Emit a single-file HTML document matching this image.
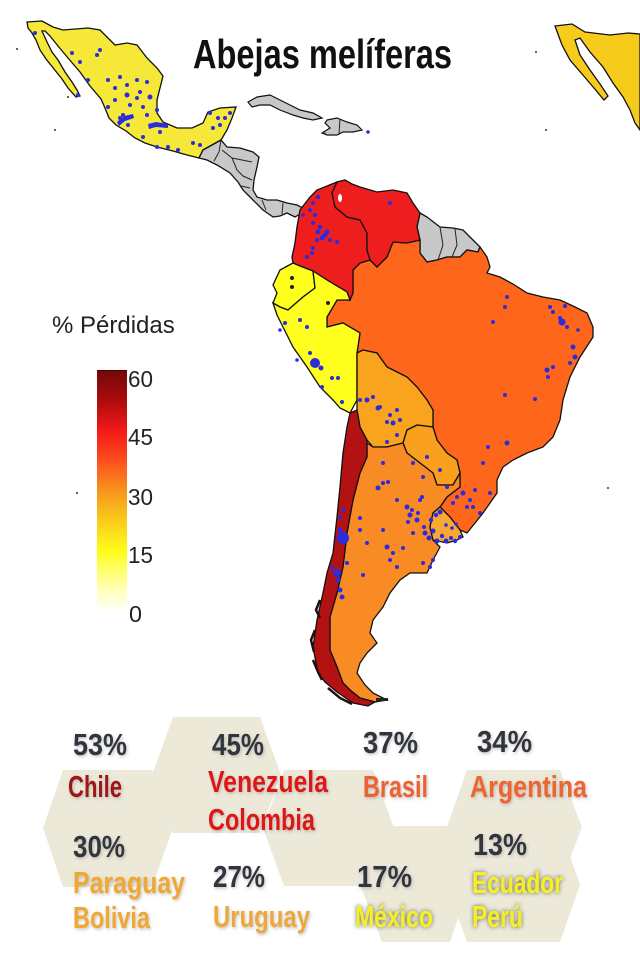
<!DOCTYPE html>
<html><head><meta charset="utf-8">
<style>
html,body{margin:0;padding:0;background:#fff;}
svg{display:block;}
</style></head>
<body>
<svg width="640" height="963" viewBox="0 0 640 963" xmlns="http://www.w3.org/2000/svg">
<defs>
<linearGradient id="cb" x1="0" y1="0" x2="0" y2="1">
<stop offset="0" stop-color="#720808"/>
<stop offset="0.12" stop-color="#a80c0c"/>
<stop offset="0.25" stop-color="#f41818"/>
<stop offset="0.37" stop-color="#fb4d1c"/>
<stop offset="0.5" stop-color="#f7951d"/>
<stop offset="0.62" stop-color="#f9cb1c"/>
<stop offset="0.75" stop-color="#fefe18"/>
<stop offset="0.88" stop-color="#ffffa0"/>
<stop offset="1" stop-color="#ffffff"/>
</linearGradient>
<filter id="sh" x="-20%" y="-30%" width="140%" height="160%">
<feDropShadow dx="1" dy="1.5" stdDeviation="1.5" flood-color="#888" flood-opacity="0.5"/>
</filter>
<filter id="shd" x="-20%" y="-30%" width="140%" height="160%">
<feDropShadow dx="0" dy="0" stdDeviation="2" flood-color="#333" flood-opacity="0.75"/>
</filter>
</defs>

<!-- Title -->
<text x="193" y="68" font-family="Liberation Sans, sans-serif" font-size="41" font-weight="bold" fill="#111" textLength="259" lengthAdjust="spacingAndGlyphs">Abejas melíferas</text>

<!-- Right Mexico copy -->
<path d="M555,26 L572,24 L585,32 L610,35 L628,33 L640,34 L640,130 L635,123 L630,110 L623,97 L613,83 L603,67 L590,52 L580,38 L575,40 L580,55 L590,70 L600,84 L608,96 L604,100 L594,88 L582,74 L570,60 L562,45 Z" fill="#f6cb1c" stroke="#111" stroke-width="1.3"/>

<!-- Mexico -->
<path d="M27,22 L42,21 L53,27 L63,30 L88,28 L100,30 L110,40 L115,45 L127,43 L137,45 L147,58 L157,68 L163,76 L160,88 L157,100 L157,113 L163,122 L177,128 L192,128 L203,123 L208,112 L220,108 L236,107 L232,118 L227,130 L221,140 L212,145 L203,150 L199,158 L187,155 L173,151 L157,147 L145,143 L135,138 L126,131 L116,125 L109,118 L105,108 L101,99 L90,86 L80,72 L68,58 L58,46 L50,36 L45,31 L42,31 L47,42 L52,52 L58,60 L65,72 L72,82 L77,90 L80,96 L76,97 L68,88 L62,79 L54,69 L46,59 L40,50 L36,40 L32,33 L28,28 Z" fill="#f5e838" stroke="#111" stroke-width="1.3"/>

<!-- Central America -->
<path d="M199,158 L203,150 L212,145 L221,140 L227,147 L240,148 L253,152 L259,157 L257,167 L254,180 L253,190 L257,197 L267,200 L277,200 L287,203 L297,205 L303,208 L300,214 L295,217 L287,213 L280,216 L273,217 L263,210 L253,200 L243,190 L238,182 L230,173 L217,165 L207,160 Z" fill="#c8c8c8" stroke="#111" stroke-width="1.3"/>
<path d="M221,140 L219,152 L214,161 M222,150 L232,158 L242,160 L252,162 M232,158 L237,170 L243,176 M243,176 L252,180 M241,186 L250,188 M262,200 L266,210 M283,203 L282,214" fill="none" stroke="#222" stroke-width="1"/>

<!-- Cuba -->
<path d="M248,102 L257,97 L270,95 L280,100 L290,105 L300,110 L313,113 L322,118 L313,120 L303,118 L293,115 L280,110 L270,105 L260,105 L252,107 Z" fill="#c8c8c8" stroke="#111" stroke-width="1.2"/>
<!-- Hispaniola -->
<path d="M327,120 L337,118 L347,122 L357,125 L362,130 L353,132 L343,132 L337,135 L327,135 L322,133 L330,128 L325,123 Z" fill="#c8c8c8" stroke="#111" stroke-width="1.2"/>
<path d="M340,119 L339,134" stroke="#222" stroke-width="1"/>

<!-- Guianas -->
<path d="M420,213 L427,217 L440,227 L453,228 L463,230 L473,240 L480,247 L478,252 L467,250 L460,257 L447,257 L437,260 L427,262 L420,253 L420,240 L417,227 Z" fill="#c8c8c8" stroke="#111" stroke-width="1.3"/>
<path d="M440,227 L443,245 L438,260 M455,229 L457,245 L452,257" fill="none" stroke="#222" stroke-width="1"/>

<!-- Brazil -->
<path d="M393,242 L407,243 L420,240 L420,253 L427,262 L437,260 L447,257 L460,257 L467,250 L478,252 L480,247 L487,257 L490,267 L487,273 L500,277 L513,284 L527,293 L543,297 L560,300 L573,306 L587,313 L593,327 L593,337 L580,357 L570,377 L563,400 L560,420 L553,437 L543,447 L527,453 L513,460 L503,467 L497,480 L497,493 L490,503 L483,513 L475,523 L467,533 L460,530 L450,517 L440,507 L447,497 L460,487 L460,473 L457,460 L447,453 L437,440 L433,427 L433,410 L427,400 L417,387 L407,377 L387,367 L377,353 L363,350 L357,353 L360,333 L343,323 L327,327 L327,317 L337,300 L350,300 L353,293 L353,270 L360,263 L370,260 L377,267 L387,257 Z" fill="#fd661b" stroke="#111" stroke-width="1.3"/>

<!-- Colombia -->
<path d="M337,182 L332,193 L335,207 L347,217 L360,220 L367,233 L367,250 L370,260 L360,263 L353,270 L353,293 L350,300 L347,292 L327,280 L313,271 L300,266 L293,263 L292,257 L295,243 L297,227 L300,210 L310,197 L317,190 Z" fill="#ee1e1e" stroke="#111" stroke-width="1.3"/>
<!-- Venezuela -->
<path d="M337,182 L345,180 L352,184 L360,187 L377,192 L393,190 L407,193 L413,203 L420,213 L417,227 L420,240 L407,243 L393,242 L387,257 L377,267 L370,260 L367,250 L367,233 L360,220 L347,217 L335,207 L332,193 Z" fill="#ee1e1e" stroke="#111" stroke-width="1.3"/>
<ellipse cx="340" cy="198" rx="2" ry="4" fill="#fff"/>

<!-- Ecuador -->
<path d="M293,263 L300,266 L313,271 L315,288 L303,297 L288,310 L280,307 L273,303 L277,293 L273,285 L280,270 Z" fill="#ffff1e" stroke="#111" stroke-width="1.3"/>
<!-- Peru -->
<path d="M313,271 L327,280 L347,292 L350,300 L337,300 L327,317 L327,327 L343,323 L360,333 L357,353 L357,367 L357,383 L357,400 L350,413 L340,408 L333,400 L320,387 L307,367 L293,347 L283,327 L277,315 L273,303 L280,307 L288,310 L303,297 L315,288 Z" fill="#ffff1e" stroke="#111" stroke-width="1.3"/>

<!-- Bolivia -->
<path d="M357,353 L363,350 L377,353 L387,367 L407,377 L417,387 L427,400 L433,410 L433,427 L417,425 L407,430 L403,443 L387,447 L373,447 L367,440 L360,427 L357,410 L357,400 L357,383 Z" fill="#f9a31e" stroke="#111" stroke-width="1.3"/>
<!-- Paraguay -->
<path d="M403,443 L407,430 L417,425 L433,427 L437,440 L447,453 L457,460 L460,473 L453,485 L437,485 L433,473 L420,463 L407,453 Z" fill="#f9a01e" stroke="#111" stroke-width="1.3"/>

<!-- Argentina -->
<path d="M367,443 L373,447 L387,447 L403,443 L407,453 L420,463 L433,473 L437,485 L453,485 L460,473 L460,487 L447,497 L440,507 L433,513 L430,527 L433,540 L440,547 L433,560 L427,573 L410,573 L400,580 L390,593 L383,607 L373,620 L370,633 L377,643 L367,653 L360,663 L357,673 L365,685 L373,693 L387,700 L375,702 L360,698 L350,690 L343,683 L337,667 L330,650 L330,617 L337,593 L343,567 L347,533 L353,500 L360,473 L367,457 Z" fill="#f98b24" stroke="#111" stroke-width="1.3"/>

<!-- Uruguay -->
<path d="M440,507 L450,517 L460,530 L463,537 L457,540 L447,543 L433,540 L430,527 L433,513 Z" fill="#f7a932" stroke="#111" stroke-width="1.3"/>

<!-- Chile -->
<path d="M350,413 L357,410 L360,427 L367,440 L367,457 L360,473 L353,500 L347,533 L343,567 L337,593 L330,617 L330,650 L337,667 L343,683 L350,690 L360,698 L375,702 L368,706 L353,703 L337,692 L325,682 L318,673 L313,647 L317,620 L323,593 L327,573 L333,553 L337,517 L340,487 L343,453 L347,427 Z" fill="#b31212" stroke="#111" stroke-width="1.3"/>
<path d="M320,600 L316,610 L320,618 M315,630 L311,640 L314,652 M313,660 L318,672 L322,680 M328,688 L340,698 L352,704" fill="none" stroke="#221010" stroke-width="2.5"/>
<rect x="376" y="698" width="12" height="3" fill="#222"/>

<!-- stray dots -->
<g fill="#333">
<circle cx="17" cy="49" r="1"/><circle cx="68" cy="97" r="1"/><circle cx="55" cy="130" r="1"/>
<circle cx="536" cy="52" r="1"/><circle cx="546" cy="130" r="1"/><circle cx="77" cy="493" r="1"/>
<circle cx="608" cy="488" r="1"/><circle cx="325" cy="133" r="0.8"/>
</g>

<!-- blue dots -->
<g fill="#2b2be0">
<circle cx="35" cy="33" r="2"/><circle cx="72" cy="53" r="2"/><circle cx="100" cy="50" r="2"/><circle cx="97" cy="55" r="2"/><circle cx="80" cy="62" r="2"/><circle cx="88" cy="80" r="2"/><circle cx="108" cy="80" r="2"/><circle cx="120" cy="77" r="2"/><circle cx="137" cy="80" r="2"/><circle cx="147" cy="82" r="2"/><circle cx="115" cy="88" r="2"/><circle cx="127" cy="85" r="2"/><circle cx="127" cy="95" r="2.5"/><circle cx="140" cy="92" r="2"/><circle cx="137" cy="98" r="2"/><circle cx="150" cy="97" r="2.5"/><circle cx="115" cy="100" r="2"/><circle cx="130" cy="105" r="2"/><circle cx="143" cy="107" r="2"/><circle cx="157" cy="110" r="2"/><circle cx="108" cy="107" r="2"/><circle cx="123" cy="115" r="2"/><circle cx="120" cy="118" r="2"/><circle cx="147" cy="115" r="2"/><circle cx="128" cy="125" r="2"/><circle cx="160" cy="132" r="2"/><circle cx="143" cy="137" r="2"/><circle cx="157" cy="147" r="2"/><circle cx="168" cy="147" r="2"/><circle cx="193" cy="143" r="2"/><circle cx="200" cy="145" r="2"/><circle cx="213" cy="128" r="2"/><circle cx="218" cy="118" r="2"/><circle cx="225" cy="118" r="2"/><circle cx="230" cy="113" r="2"/><circle cx="210" cy="113" r="2"/><circle cx="220" cy="125" r="2"/><circle cx="78" cy="95" r="2"/><circle cx="178" cy="150" r="2"/>
<path d="M117,122 L124,116 L133,114 L134,118 L125,121 L119,126 Z"/>
<path d="M148,124 L156,122 L168,124 L168,128 L156,127 L149,129 Z"/>
<circle cx="368" cy="132" r="1.8"/>
<!-- Colombia/Venezuela -->
<circle cx="310" cy="210" r="2"/><circle cx="313" cy="203" r="2"/><circle cx="318" cy="197" r="2"/><circle cx="313" cy="223" r="2"/><circle cx="320" cy="227" r="2.3"/><circle cx="327" cy="232" r="2.5"/><circle cx="322" cy="238" r="2.5"/><circle cx="317" cy="240" r="2"/><circle cx="330" cy="240" r="2"/><circle cx="337" cy="242" r="2"/><circle cx="313" cy="248" r="2"/><circle cx="307" cy="257" r="2"/><circle cx="312" cy="253" r="2"/><circle cx="325" cy="235" r="2.5"/><circle cx="318" cy="232" r="2.5"/><circle cx="390" cy="203" r="2"/><circle cx="303" cy="215" r="1.8"/><circle cx="315" cy="215" r="2"/>
<!-- Ecuador/Peru -->
<circle cx="292" cy="278" r="2" fill="#222"/><circle cx="292" cy="287" r="2" fill="#222"/><circle cx="328" cy="303" r="2" fill="#222"/><circle cx="285" cy="323" r="2"/><circle cx="300" cy="320" r="2"/><circle cx="307" cy="327" r="2"/><circle cx="310" cy="353" r="2"/><circle cx="315" cy="363" r="5"/><circle cx="321" cy="368" r="2.5"/><circle cx="332" cy="378" r="2"/><circle cx="338" cy="378" r="2"/><circle cx="322" cy="387" r="2"/><circle cx="342" cy="402" r="2"/><circle cx="280" cy="330" r="1.8"/><circle cx="297" cy="360" r="1.8"/>
<!-- Brazil -->
<circle cx="507" cy="297" r="2"/><circle cx="505" cy="307" r="2"/><circle cx="493" cy="322" r="2"/><circle cx="550" cy="307" r="2"/><circle cx="553" cy="312" r="2"/><circle cx="565" cy="306" r="2"/><circle cx="562" cy="322" r="3.5"/><circle cx="573" cy="347" r="2.5"/><circle cx="575" cy="357" r="2.5"/><circle cx="570" cy="363" r="2"/><circle cx="547" cy="370" r="2.5"/><circle cx="548" cy="377" r="2"/><circle cx="553" cy="367" r="2"/><circle cx="505" cy="395" r="2"/><circle cx="535" cy="399" r="2"/><circle cx="488" cy="447" r="2"/><circle cx="507" cy="443" r="2.5"/><circle cx="483" cy="463" r="2"/><circle cx="490" cy="493" r="2"/><circle cx="463" cy="493" r="2.5"/><circle cx="467" cy="507" r="2"/><circle cx="473" cy="507" r="2"/><circle cx="480" cy="513" r="2"/><circle cx="453" cy="503" r="2"/><circle cx="447" cy="487" r="2"/><circle cx="470" cy="500" r="2"/><circle cx="578" cy="330" r="1.8"/><circle cx="457" cy="497" r="2"/><circle cx="475" cy="490" r="2"/><circle cx="560" cy="318" r="2"/><circle cx="567" cy="327" r="2"/>
<!-- Bolivia -->
<circle cx="367" cy="400" r="2.5"/><circle cx="373" cy="397" r="2"/><circle cx="360" cy="400" r="2"/><circle cx="378" cy="408" r="2.5"/><circle cx="397" cy="410" r="2"/><circle cx="390" cy="415" r="2"/><circle cx="393" cy="423" r="2.5"/><circle cx="387" cy="422" r="2"/><circle cx="397" cy="435" r="2"/><circle cx="387" cy="442" r="2"/><circle cx="380" cy="407" r="2"/><circle cx="400" cy="420" r="2"/>
<!-- Paraguay -->
<circle cx="427" cy="457" r="2"/><circle cx="440" cy="470" r="2"/><circle cx="423" cy="477" r="2"/><circle cx="413" cy="463" r="2"/>
<!-- Argentina -->
<circle cx="383" cy="463" r="2"/><circle cx="383" cy="483" r="2"/><circle cx="378" cy="488" r="2.5"/><circle cx="388" cy="482" r="2"/><circle cx="397" cy="500" r="2"/><circle cx="420" cy="500" r="2"/><circle cx="422" cy="497" r="2"/><circle cx="407" cy="507" r="2.5"/><circle cx="410" cy="515" r="2.5"/><circle cx="417" cy="520" r="2.5"/><circle cx="413" cy="533" r="2"/><circle cx="360" cy="518" r="2"/><circle cx="360" cy="530" r="2"/><circle cx="383" cy="530" r="2"/><circle cx="367" cy="543" r="2"/><circle cx="387" cy="547" r="2.5"/><circle cx="393" cy="553" r="2"/><circle cx="390" cy="560" r="2"/><circle cx="403" cy="548" r="2"/><circle cx="397" cy="567" r="2"/><circle cx="423" cy="563" r="2"/><circle cx="430" cy="567" r="2"/><circle cx="433" cy="560" r="2"/><circle cx="363" cy="575" r="2"/><circle cx="408" cy="522" r="2"/><circle cx="412" cy="510" r="2"/><circle cx="418" cy="513" r="2"/>
<!-- BA/Uruguay cluster -->
<circle cx="425" cy="533" r="2.5"/><circle cx="429" cy="538" r="2.5"/><circle cx="433" cy="531" r="2.5"/><circle cx="437" cy="541" r="2.5"/><circle cx="442" cy="536" r="2.2"/><circle cx="446" cy="541" r="2.5"/><circle cx="451" cy="538" r="2"/><circle cx="455" cy="541" r="2.2"/><circle cx="460" cy="537" r="2"/><circle cx="424" cy="527" r="2"/><circle cx="431" cy="520" r="2.2"/><circle cx="436" cy="515" r="2.2"/><circle cx="440" cy="512" r="2.5"/><circle cx="452" cy="528" r="1.8"/><circle cx="456" cy="524" r="1.8"/><circle cx="446" cy="525" r="1.8"/>
<!-- Chile -->
<circle cx="343" cy="538" r="6"/><circle cx="340" cy="530" r="2.5"/><circle cx="337" cy="573" r="4"/><circle cx="332" cy="567" r="2"/><circle cx="340" cy="590" r="2.5"/><circle cx="342" cy="597" r="2.5"/><circle cx="347" cy="563" r="2"/><circle cx="340" cy="517" r="2"/><circle cx="343" cy="510" r="2"/><circle cx="338" cy="580" r="2.5"/>
</g>

<!-- Legend -->
<text x="52" y="333" font-family="Liberation Sans, sans-serif" font-size="24" fill="#222">% Pérdidas</text>
<rect x="97" y="370" width="30" height="242" fill="url(#cb)"/>
<line x1="97" y1="370.5" x2="127" y2="370.5" stroke="#4a0000" stroke-width="1"/>
<g font-family="Liberation Sans, sans-serif" font-size="23" fill="#222">
<text x="128" y="387" textLength="25" lengthAdjust="spacingAndGlyphs">60</text>
<text x="128" y="445" textLength="25" lengthAdjust="spacingAndGlyphs">45</text>
<text x="128" y="505" textLength="25" lengthAdjust="spacingAndGlyphs">30</text>
<text x="128" y="563" textLength="25" lengthAdjust="spacingAndGlyphs">15</text>
<text x="129" y="622" textLength="13" lengthAdjust="spacingAndGlyphs">0</text>
</g>

<!-- Hex background -->
<g fill="#ece9d9">
<polygon points="43,828 63,770 152,770 173,828 152,887 63,887"/>
<polygon points="152,775 173,717 260,717 281,775 260,833 173,833"/>
<polygon points="263,828 284,770 373,770 394,828 373,886 284,886"/>
<polygon points="360,884 382,826 450,826 470,884 450,942 382,942"/>
<polygon points="447,827 467,770 560,770 582,827 560,885 467,885"/>
<polygon points="447,885 467,827 560,827 580,885 560,942 467,942"/>
</g>

<!-- Bottom text -->
<g font-family="Liberation Sans, sans-serif" font-size="31" font-weight="bold">
<g fill="#30343c" filter="url(#sh)">
<text x="73" y="755" textLength="54" lengthAdjust="spacingAndGlyphs">53%</text>
<text x="212" y="755" textLength="52" lengthAdjust="spacingAndGlyphs">45%</text>
<text x="363" y="753" textLength="55" lengthAdjust="spacingAndGlyphs">37%</text>
<text x="477" y="752" textLength="55" lengthAdjust="spacingAndGlyphs">34%</text>
<text x="73" y="857" textLength="52" lengthAdjust="spacingAndGlyphs">30%</text>
<text x="213" y="887" textLength="52" lengthAdjust="spacingAndGlyphs">27%</text>
<text x="357" y="887" textLength="55" lengthAdjust="spacingAndGlyphs">17%</text>
<text x="473" y="855" textLength="54" lengthAdjust="spacingAndGlyphs">13%</text>
</g>
<g filter="url(#sh)">
<text x="68" y="797" fill="#a01414" textLength="54" lengthAdjust="spacingAndGlyphs">Chile</text>
<text x="208" y="792" fill="#e01818" textLength="120" lengthAdjust="spacingAndGlyphs">Venezuela</text>
<text x="208" y="830" fill="#e01818" textLength="107" lengthAdjust="spacingAndGlyphs">Colombia</text>
<text x="363" y="797" fill="#ee6230" textLength="65" lengthAdjust="spacingAndGlyphs">Brasil</text>
<text x="470" y="797" fill="#ee6530" textLength="117" lengthAdjust="spacingAndGlyphs">Argentina</text>
<text x="73" y="893" fill="#efa833" textLength="112" lengthAdjust="spacingAndGlyphs">Paraguay</text>
<text x="73" y="928" fill="#efa833" textLength="77" lengthAdjust="spacingAndGlyphs">Bolivia</text>
<text x="213" y="927" fill="#eca93a" textLength="97" lengthAdjust="spacingAndGlyphs">Uruguay</text>
</g>
<g fill="#f6f020" filter="url(#shd)">
<text x="355" y="927" textLength="78" lengthAdjust="spacingAndGlyphs">México</text>
<text x="472" y="893" textLength="91" lengthAdjust="spacingAndGlyphs">Ecuador</text>
<text x="472" y="927" textLength="51" lengthAdjust="spacingAndGlyphs">Perú</text>
</g>
</g>
</svg>
</body></html>
